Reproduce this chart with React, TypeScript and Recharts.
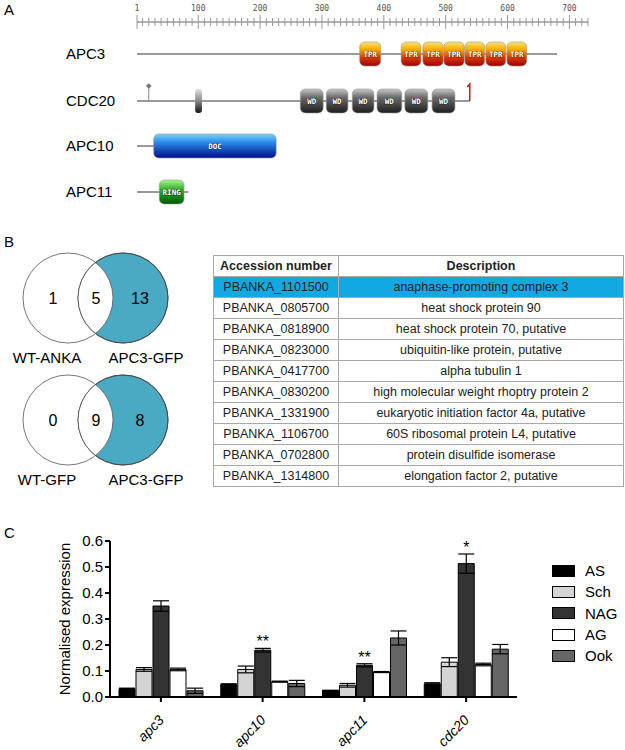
import { BarChart, Bar, XAxis, YAxis, ErrorBar, LabelList } from 'recharts';

// ---- panel A: domain architecture (residue coordinates) ----
const rulerLabels = [1, 100, 200, 300, 400, 500, 600, 700];
const rulerEnd = 730;
const apc3Length = 680;
const apc3Tpr = [[361, 395], [428, 460], [463, 496], [497, 530], [531, 563], [565, 597], [599, 631]];
const cdc20Length = 539;
const cdc20Wd = [[265, 302], [307, 342], [349, 384], [389, 429], [434, 471], [478, 515]];
const cdc20Pin = 20;
const cdc20Motif = [95, 106];
const apc10Length = 226;
const apc10Doc = [[28, 226]];
const apc11Length = 84;
const apc11Ring = [[37, 77]];

// ---- panel B ----
const vennTop = ['1', '5', '13'];
const vennTopLabels = ['WT-ANKA', 'APC3-GFP'];
const vennBottom = ['0', '9', '8'];
const vennBottomLabels = ['WT-GFP', 'APC3-GFP'];
const accessions = [
  'PBANKA_1101500', 'PBANKA_0805700', 'PBANKA_0818900', 'PBANKA_0823000', 'PBANKA_0417700',
  'PBANKA_0830200', 'PBANKA_1331900', 'PBANKA_1106700', 'PBANKA_0702800', 'PBANKA_1314800',
];
const descriptions = [
  'anaphase-promoting complex  3', 'heat shock protein 90', 'heat shock protein 70, putative',
  'ubiquitin-like protein, putative', 'alpha tubulin 1', 'high molecular weight rhoptry protein 2',
  'eukaryotic initiation factor 4a, putative', '60S ribosomal protein L4, putative',
  'protein disulfide isomerase', 'elongation factor 2, putative',
];

// ---- panel C: qPCR ----
const genes = ['apc3', 'apc10', 'apc11', 'cdc20'];
const stages = ['AS', 'Sch', 'NAG', 'AG', 'Ook'];
const stageColors = ['#000000', '#d4d4d4', '#333333', '#ffffff', '#666666'];
const asValues = [0.032, 0.048, 0.025, 0.051];
const asErrors = [0.002, 0.003, 0.001, 0.004];
const schValues = [0.106, 0.106, 0.045, 0.134];
const schErrors = [0.007, 0.013, 0.007, 0.017];
const nagValues = [0.35, 0.18, 0.122, 0.513];
const nagErrors = [0.02, 0.007, 0.006, 0.037];
const agValues = [0.106, 0.059, 0.096, 0.125];
const agErrors = [0.005, 0.002, 0.002, 0.005];
const ookValues = [0.024, 0.052, 0.227, 0.184];
const ookErrors = [0.01, 0.012, 0.027, 0.018];
const nagSignificance = ['', '**', '**', '*'];
const yTicks = [0, 0.1, 0.2, 0.3, 0.4, 0.5, 0.6];

const seriesValues = [asValues, schValues, nagValues, agValues, ookValues];
const seriesErrors = [asErrors, schErrors, nagErrors, agErrors, ookErrors];

const chartData = genes.map((gene, i) => {
  const row: Record<string, string | number> = { gene };
  stages.forEach((s, k) => {
    row[s] = seriesValues[k][i];
    row[s + 'Err'] = seriesErrors[k][i];
  });
  return row;
});

const font = '"Liberation Sans", Arial, Helvetica, sans-serif';

const resX = (r: number) => 137 + (r - 1) * 0.6186;

function Domains({ list, cy, grad, label }: { list: number[][]; cy: number; grad: string; label: string }) {
  return (
    <>
      {list.map(([a, b], i) => {
        const x = resX(a);
        const w = resX(b) - x;
        return (
          <g key={i}>
            <rect x={x} y={cy - 12} width={w} height={24} rx={5} fill={`url(#${grad})`} stroke="#999" strokeWidth={0.6} />
            <text x={x + w / 2} y={cy + 3} textAnchor="middle" fontSize={7.5} fontWeight="bold" fill="#fff"
              stroke="rgba(0,0,0,0.45)" strokeWidth={1.2} paintOrder="stroke" fontFamily="DejaVu Sans Mono, monospace">{label}</text>
          </g>
        );
      })}
    </>
  );
}

function PanelsAB() {
  const rulerMinor: number[] = [];
  for (let r = 10; r <= rulerEnd; r += 10) rulerMinor.push(r);
  const proteins = [
    { name: 'APC3', cy: 54, len: apc3Length },
    { name: 'CDC20', cy: 101, len: cdc20Length },
    { name: 'APC10', cy: 146, len: apc10Length },
    { name: 'APC11', cy: 192, len: apc11Length },
  ];
  const venn = (cy: number, nums: string[], labels: string[], key: string) => (
    <g key={key}>
      <clipPath id={`clip-${key}`}>
        <circle cx={68} cy={cy} r={45} />
      </clipPath>
      <circle cx={123} cy={cy} r={45} fill="#4aa9c3" stroke="#444" strokeWidth={0.8} />
      <circle cx={123} cy={cy} r={45} fill="#fff" clipPath={`url(#clip-${key})`} />
      <circle cx={68} cy={cy} r={45} fill="none" stroke="#555" strokeWidth={0.8} />
      <circle cx={123} cy={cy} r={45} fill="none" stroke="#444" strokeWidth={0.8} />
      <text x={53} y={cy + 6} textAnchor="middle" fontSize={16}>{nums[0]}</text>
      <text x={96} y={cy + 6} textAnchor="middle" fontSize={16}>{nums[1]}</text>
      <text x={140} y={cy + 6} textAnchor="middle" fontSize={16}>{nums[2]}</text>
      <text x={47} y={cy + 65} textAnchor="middle" fontSize={15}>{labels[0]}</text>
      <text x={146} y={cy + 65} textAnchor="middle" fontSize={15}>{labels[1]}</text>
    </g>
  );
  return (
    <svg width={625} height={520} style={{ position: 'absolute', left: 0, top: 0 }} fontFamily={font}>
      <defs>
        <linearGradient id="gTpr" x1="0" y1="0" x2="0" y2="1">
          <stop offset="0" stopColor="#ffe27a" />
          <stop offset="0.3" stopColor="#f4b000" />
          <stop offset="0.65" stopColor="#d23a00" />
          <stop offset="1" stopColor="#a00000" />
        </linearGradient>
        <linearGradient id="gWd" x1="0" y1="0" x2="0" y2="1">
          <stop offset="0" stopColor="#c8c8c8" />
          <stop offset="0.35" stopColor="#6a6a6a" />
          <stop offset="1" stopColor="#1e1e1e" />
        </linearGradient>
        <linearGradient id="gDoc" x1="0" y1="0" x2="0" y2="1">
          <stop offset="0" stopColor="#7ad4fa" />
          <stop offset="0.35" stopColor="#2a8ae8" />
          <stop offset="1" stopColor="#000c8c" />
        </linearGradient>
        <linearGradient id="gRing" x1="0" y1="0" x2="0" y2="1">
          <stop offset="0" stopColor="#a6f590" />
          <stop offset="0.4" stopColor="#2fae25" />
          <stop offset="1" stopColor="#005a00" />
        </linearGradient>
        <linearGradient id="gMotif" x1="0" y1="0" x2="0" y2="1">
          <stop offset="0" stopColor="#e0e0e0" />
          <stop offset="0.5" stopColor="#888" />
          <stop offset="1" stopColor="#111" />
        </linearGradient>
      </defs>

      <text x={4} y={15} fontSize={15}>A</text>
      {/* ruler */}
      <line x1={resX(1)} x2={resX(rulerEnd)} y1={22} y2={22} stroke="#999" strokeWidth={1.5} />
      <line x1={resX(1)} x2={resX(1)} y1={15} y2={29} stroke="#999" strokeWidth={1} />
      {rulerMinor.map((r) => (
        <line key={r} x1={resX(r)} x2={resX(r)} y1={r % 100 === 0 ? 15 : 18} y2={r % 100 === 0 ? 29 : 26}
          stroke="#999" strokeWidth={1} />
      ))}
      {rulerLabels.map((r) => (
        <text key={r} x={resX(r)} y={11} textAnchor="middle" fontSize={8} fill="#555"
          fontFamily="DejaVu Sans Mono, monospace">{r}</text>
      ))}

      {proteins.map((p) => (
        <g key={p.name}>
          <text x={66} y={p.cy + 5} fontSize={15}>{p.name}</text>
          <line x1={resX(1)} x2={resX(p.len)} y1={p.cy} y2={p.cy} stroke="#999" strokeWidth={1.8} />
        </g>
      ))}

      {/* CDC20 extras */}
      <line x1={resX(cdc20Pin)} x2={resX(cdc20Pin)} y1={101} y2={86} stroke="#888" strokeWidth={1} />
      <rect x={resX(cdc20Pin) - 2} y={84} width={4} height={4} fill="#777" transform={`rotate(45 ${resX(cdc20Pin)} 86)`} />
      <rect x={resX(cdc20Motif[0])} y={89} width={resX(cdc20Motif[1]) - resX(cdc20Motif[0])} height={24} rx={3}
        fill="url(#gMotif)" />
      <polyline points={`${resX(cdc20Length)},101 ${resX(cdc20Length)},84 ${resX(cdc20Length) - 2.5},87`}
        fill="none" stroke="#e00000" strokeWidth={1.4} />

      <Domains list={apc3Tpr} cy={54} grad="gTpr" label="TPR" />
      <Domains list={cdc20Wd} cy={101} grad="gWd" label="WD" />
      <Domains list={apc10Doc} cy={146} grad="gDoc" label="DOC" />
      <Domains list={apc11Ring} cy={192} grad="gRing" label="RING" />

      <text x={4} y={247} fontSize={15}>B</text>
      {venn(298, vennTop, vennTopLabels, 'v1')}
      {venn(420, vennBottom, vennBottomLabels, 'v2')}
    </svg>
  );
}

function ProteinTable() {
  const cell = (first: boolean): React.CSSProperties => ({
    border: '1px solid #a8a8a8',
    padding: 0,
    height: 20,
    textAlign: 'center',
    width: first ? 124 : undefined,
  });
  return (
    <table style={{ position: 'absolute', left: 213, top: 255, width: 411, borderCollapse: 'collapse',
      fontFamily: font, fontSize: 12.5, color: '#222', tableLayout: 'fixed' }}>
      <tbody>
        <tr>
          <td style={{ ...cell(true), fontWeight: 'bold' }}>Accession number</td>
          <td style={{ ...cell(false), fontWeight: 'bold' }}>Description</td>
        </tr>
        {accessions.map((acc, i) => (
          <tr key={acc} style={{ background: i === 0 ? '#12a9e3' : '#fff' }}>
            <td style={cell(true)}>{acc}</td>
            <td style={cell(false)}>{descriptions[i]}</td>
          </tr>
        ))}
      </tbody>
    </table>
  );
}

const GeneTick = (props: any) => {
  const { x, y, payload } = props;
  return (
    <g transform={`translate(${x + 4},${y + 17})`}>
      <text x={0} y={0} textAnchor="end" transform="rotate(-45)" fontSize={14} fontStyle="italic"
        fill="#000" fontFamily={font}>{payload.value}</text>
    </g>
  );
};

const renderStars = (props: any) => {
  const vb = props.viewBox ?? props;
  const { index, value } = props;
  const mark = nagSignificance[index];
  if (!mark || vb == null) return null;
  const h = Math.abs(vb.height);
  const top = Math.min(vb.y, vb.y + vb.height);
  const pxPerUnit = h / Number(value);
  const errTop = top - nagErrors[index] * pxPerUnit;
  return (
    <text x={vb.x + vb.width / 2} y={errTop - 1} textAnchor="middle" fontSize={16} fill="#000" fontFamily={font}>
      {mark}
    </text>
  );
};

const YLabel = (props: any) => {
  const vb = props.viewBox;
  const cx = 64;
  const cy = vb.y + vb.height / 2;
  return (
    <text x={cx} y={cy} transform={`rotate(-90 ${cx} ${cy})`} textAnchor="middle" dominantBaseline="central"
      fontSize={15} fill="#000" fontFamily={font}>Normalised expression</text>
  );
};

function ExpressionChart() {
  return (
    <div style={{ position: 'absolute', left: 0, top: 520, width: 625, height: 230 }}>
      <div style={{ position: 'absolute', left: 4, top: 4, fontFamily: font, fontSize: 15 }}>C</div>
      <BarChart width={625} height={230} data={chartData} margin={{ top: 21, right: 108, left: 60, bottom: 0 }}
        barSize={16} barGap={1} barCategoryGap={9}>
        <XAxis dataKey="gene" interval={0} height={53} tick={<GeneTick />} tickSize={5}
          axisLine={{ stroke: '#000', strokeWidth: 2 }} tickLine={{ stroke: '#000', strokeWidth: 2 }} />
        <YAxis domain={[0, 0.6]} ticks={yTicks} width={50} tickSize={5} interval={0}
          tickFormatter={(v: number) => v.toFixed(1)}
          tick={{ fill: '#000', fontSize: 15, fontFamily: font }}
          axisLine={{ stroke: '#000', strokeWidth: 2 }} tickLine={{ stroke: '#000', strokeWidth: 2 }}
          label={<YLabel />} />
        {stages.map((s, k) => (
          <Bar key={s} dataKey={s} fill={stageColors[k]} stroke="#000" strokeWidth={1} isAnimationActive={false}>
            <ErrorBar dataKey={s + 'Err'} width={8} stroke="#000" strokeWidth={1.2} direction="y" />
            {s === 'NAG' && <LabelList dataKey="NAG" content={renderStars} />}
          </Bar>
        ))}
      </BarChart>
      <div style={{ position: 'absolute', left: 552, top: 40, fontFamily: font, fontSize: 15 }}>
        {stages.map((s, k) => (
          <div key={s} style={{ display: 'flex', alignItems: 'center', height: 21.3 }}>
            <span style={{ display: 'inline-block', width: 21, height: 10, background: stageColors[k],
              border: '1px solid #000', marginRight: 10 }} />
            <span>{s}</span>
          </div>
        ))}
      </div>
    </div>
  );
}

export default function App() {
  return (
    <div style={{ position: 'absolute', left: 0, top: 0, width: 625, height: 750, background: '#fff', overflow: 'hidden' }}>
      <PanelsAB />
      <ProteinTable />
      <ExpressionChart />
    </div>
  );
}
